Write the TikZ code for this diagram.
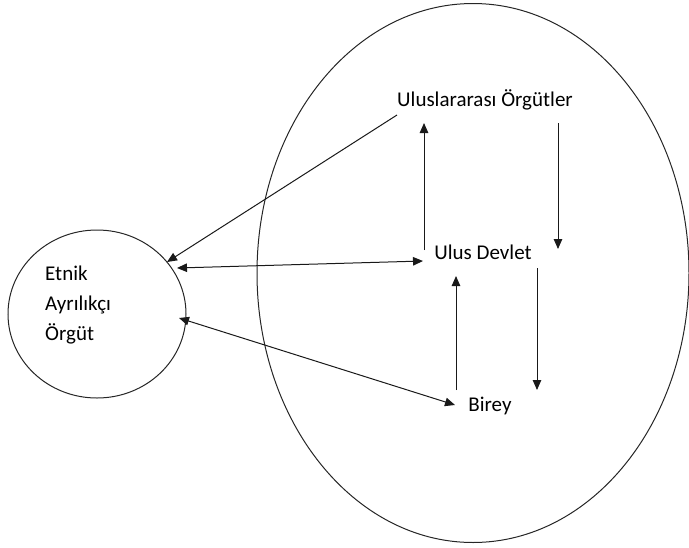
\documentclass[tikz,border=0pt]{standalone}
\usepackage{fontspec}
\setmainfont{Carlito}
\usetikzlibrary{arrows.meta,shapes.geometric}
\begin{document}
\begin{tikzpicture}[x=1pt,y=-1pt,
  lbl/.style={font=\fontsize{21}{30}\selectfont, inner sep=0pt, text=black},
  ring/.style={draw=black!85, line width=1pt, ellipse, inner sep=0pt},
  conn/.style={draw=black!90, line width=1pt, -{Triangle[length=10pt,width=8.5pt]}},
  dconn/.style={draw=black!90, line width=1pt, {Triangle[length=10pt,width=8.5pt]}-{Triangle[length=10pt,width=8.5pt]}}]
\useasboundingbox (0,0) rectangle (689,547);
\node[ring, minimum width=178pt, minimum height=168pt] (etnik) at (97,314) {};
\node[ring, minimum width=432pt, minimum height=539pt] (big) at (473,273) {};
\node[lbl, align=left, anchor=west] (etniklbl) at (45,305) {Etnik\\Ayrılıkçı\\Örgüt};
\node[lbl] (ulus) at (485,100) {Uluslararası Örgütler};
\node[lbl] (devlet) at (483,252) {Ulus Devlet};
\node[lbl] (birey) at (490,406) {Birey};
% endpoints
\coordinate (a1s) at (397,115); \coordinate (a1e) at (167,262);
\coordinate (a2s) at (177,268); \coordinate (a2e) at (423,261);
\coordinate (a3s) at (179,318); \coordinate (a3e) at (455,405);
\coordinate (a4s) at (424,250); \coordinate (a4e) at (424,123);
\coordinate (a5s) at (558,123); \coordinate (a5e) at (558,249);
\coordinate (a6s) at (456,390); \coordinate (a6e) at (456,276);
\coordinate (a7s) at (537,268); \coordinate (a7e) at (537,390);
\draw[conn] (a1s) -- (a1e);
\draw[dconn] (a2s) -- (a2e);
\draw[dconn] (a3s) -- (a3e);
\draw[conn] (a4s) -- (a4e);
\draw[conn] (a5s) -- (a5e);
\draw[conn] (a6s) -- (a6e);
\draw[conn] (a7s) -- (a7e);
\end{tikzpicture}
\end{document}
